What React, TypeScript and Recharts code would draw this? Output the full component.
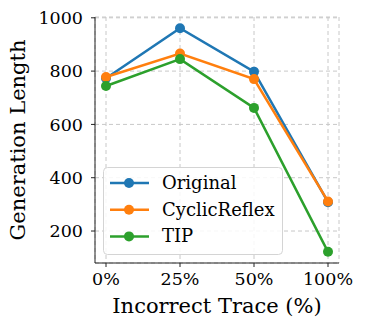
import { LineChart, Line, XAxis, YAxis, CartesianGrid, Legend, Label } from 'recharts'

const traces = ['0%', '25%', '50%', '100%']
const original = [773, 961, 798, 308]
const cyclicReflex = [778, 866, 770, 311]
const tip = [744, 845, 662, 122]
const yTicks = [200, 400, 600, 800, 1000]

const series = [
  { key: 'Original', color: '#1f77b4', values: original },
  { key: 'CyclicReflex', color: '#ff7f0e', values: cyclicReflex },
  { key: 'TIP', color: '#2ca02c', values: tip },
]

const data = traces.map((t, i) => {
  const row: Record<string, string | number> = { trace: t }
  series.forEach((s) => { row[s.key] = s.values[i] })
  return row
})

const FONT = 'DejaVu Serif'

function LegendBox() {
  return (
    <svg width={180} height={88} style={{ display: 'block', fontFamily: FONT }}>
      <rect x={0.5} y={0.5} width={179} height={87} rx={4} fill="rgba(255,255,255,0.85)" stroke="#d4d4d4" />
      {series.map((s, i) => {
        const cy = 16 + i * 26.7
        return (
          <g key={s.key}>
            <line x1={7} y1={cy} x2={46} y2={cy} stroke={s.color} strokeWidth={2.5} />
            <circle cx={26} cy={cy} r={5} fill={s.color} />
            <text x={59} y={cy + 6} style={{ fontFamily: FONT, fontSize: 18 }} fill="#000">{s.key}</text>
          </g>
        )
      })}
    </svg>
  )
}

export default function App() {
  return (
    <div style={{ position: 'absolute', left: 0, top: 0, background: '#fff' }}>
      <LineChart width={365} height={329} data={data} margin={{ top: 17, right: 26, bottom: 26, left: 0 }}>
        <CartesianGrid stroke="#c8c8c8" strokeDasharray="4 3" />
        <XAxis dataKey="trace" padding={{ left: 11, right: 11 }} height={40} tickSize={4} tickMargin={6}
          axisLine={{ stroke: '#222' }} tickLine={{ stroke: '#222' }}
          tick={{ fontFamily: FONT, fontSize: 17.5, fill: '#000' }}>
          <Label content={({ viewBox }: any) => (
            <text x={viewBox.x + viewBox.width / 2} y={viewBox.y + 50} textAnchor="middle"
              fontFamily={FONT} fontSize={21} fill="#000">Incorrect Trace (%)</text>
          )} />
        </XAxis>
        <XAxis xAxisId="top" dataKey="trace" orientation="top" height={0} tick={false} tickLine={false}
          axisLine={{ stroke: '#222' }} padding={{ left: 11, right: 11 }} />
        <YAxis domain={[80, 1003]} ticks={yTicks} allowDataOverflow width={95} tickSize={4} tickMargin={8}
          axisLine={{ stroke: '#222' }} tickLine={{ stroke: '#222' }}
          tick={{ fontFamily: FONT, fontSize: 17.5, fill: '#000' }}>
          <Label content={({ viewBox }: any) => {
            const cy = viewBox.y + viewBox.height / 2
            return (
              <text x={25} y={cy} transform={`rotate(-90 25 ${cy})`} textAnchor="middle"
                fontFamily={FONT} fontSize={21} fill="#000">Generation Length</text>
            )
          }} />
        </YAxis>
        <YAxis yAxisId="right" orientation="right" width={0} tick={false} tickLine={false}
          axisLine={{ stroke: '#222' }} />
        {series.map((s) => (
          <Line key={s.key} dataKey={s.key} stroke={s.color} strokeWidth={2.5} isAnimationActive={false}
            dot={{ r: 5, fill: s.color, stroke: s.color, strokeWidth: 0 }} activeDot={false} />
        ))}
        <Legend layout="vertical" align="center" verticalAlign="middle" content={() => <LegendBox />}
          wrapperStyle={{ position: 'absolute', left: 103, top: 167, width: 180, height: 88 }} />
      </LineChart>
    </div>
  )
}
